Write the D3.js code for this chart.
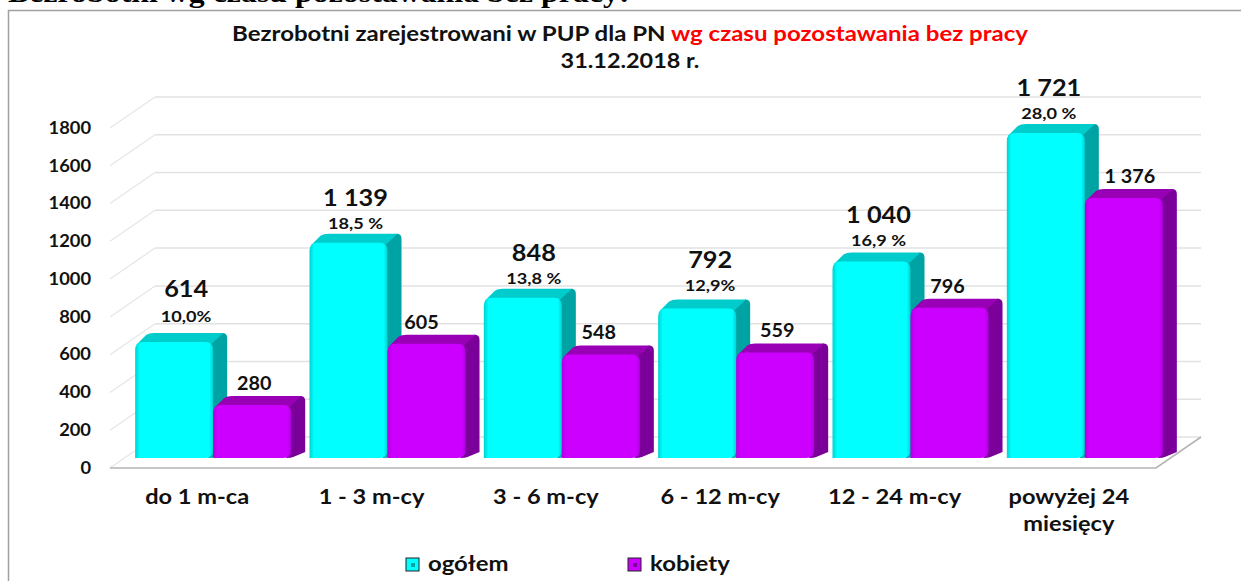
<!DOCTYPE html>
<html>
<head>
<meta charset="utf-8">
<script src="https://cdn.jsdelivr.net/npm/d3@7"></script>
<style>
  html, body { margin: 0; padding: 0; background: #fff; overflow: hidden; }
  svg { display: block; }
  text { font-family: Lato, "Open Sans", sans-serif; font-weight: 700; fill: #111; }
</style>
</head>
<body>
<svg id="chart"></svg>
<script>
const categories = ["do 1 m-ca", "1 - 3 m-cy", "3 - 6 m-cy", "6 - 12 m-cy", "12 - 24 m-cy", "powyżej 24|miesięcy"];
const seriesNames = ["ogółem", "kobiety"];
const totalValues = [614, 1139, 848, 792, 1040, 1721];
const womenValues = [280, 605, 548, 559, 796, 1376];
const shareLabels = ["10,0%", "18,5 %", "13,8 %", "12,9%", "16,9 %", "28,0 %"];
const yTicks = [0, 200, 400, 600, 800, 1000, 1200, 1400, 1600, 1800];

// the labels were nudged by hand in the original chart
const totalLabelDx = [12, 7, 11, 13, 7, 3];
const totalLabelDy = [-8, 0, 0, -3, -2, 0];
const shareLabelDy = [-6, 0, 0, -3, -2, 0];
const womenLabelDx = [2, -5, -2, 2, -2, 6];

const width = 1241;
const height = 581;

const svg = d3.select("#chart").attr("width", width).attr("height", height);

// the original picture is stretched sideways, so the text is too
function stretch(selection, k) {
  selection.each(function () {
    d3.select(this)
      .attr("textLength", this.getComputedTextLength() * k)
      .attr("lengthAdjust", "spacingAndGlyphs");
  });
}

// floor corners of the fake 3D box
const floor = { left: 110, right: 1156, front: 468, depthX: 45, depthY: -31 };
const barLift = { x: 16, y: -10 };
const barDepth = { x: 14, y: -9 };

const yFront = d3.scaleLinear().domain([0, 1800]).range([floor.front, 128]);
const yBar = d3.scaleLinear().domain([0, 1800]).range([floor.front + barLift.y, 128 + barLift.y]);

const xAxisScale = d3.scaleBand().domain(categories).range([floor.left, floor.right]);
const x0 = d3.scaleBand()
  .domain(categories)
  .range([floor.left + barLift.x, floor.right + barLift.x])
  .paddingInner(0.105)
  .paddingOuter(0.0525);
const x1 = d3.scaleBand().domain(seriesNames).range([0, x0.bandwidth()]);

const palette = {
  "ogółem": { front: "#00ffff", edge: "#00d2d2", top: "#00cccc", side: "#00a3a3" },
  "kobiety": { front: "#cc00ff", edge: "#b000e0", top: "#9900b5", side: "#7a0099" },
};

// Gradients for the bevel on the bar fronts
const defs = svg.append("defs");
seriesNames.forEach((name, i) => {
  const grad = defs.append("linearGradient").attr("id", "front" + i);
  grad.append("stop").attr("offset", "0%").attr("stop-color", palette[name].edge);
  grad.append("stop").attr("offset", "6%").attr("stop-color", palette[name].front);
  grad.append("stop").attr("offset", "95%").attr("stop-color", palette[name].front);
  grad.append("stop").attr("offset", "100%").attr("stop-color", palette[name].edge);
});

// Heading of the document, cut by the top of the page
svg.append("text")
  .attr("x", 8)
  .attr("y", 2)
  .style("font-family", '"Liberation Serif", serif')
  .style("font-size", "27px")
  .style("fill", "#000")
  .text("Bezrobotni wg czasu pozostawania bez pracy:")
  .call(stretch, 1.18);

// Frame
svg.append("path")
  .attr("d", `M8.5,${height}V10.5H${width}`)
  .attr("fill", "none")
  .attr("stroke", "#a0a0a0")
  .attr("stroke-width", 1.5);

// Title
const title = svg.append("text")
  .attr("x", 630)
  .attr("y", 41)
  .attr("text-anchor", "middle")
  .style("font-size", "21px");
title.append("tspan").text("Bezrobotni zarejestrowani w PUP dla PN ");
title.append("tspan").style("fill", "#ff0000").text("wg czasu pozostawania bez pracy");
title.call(stretch, 1.144);

svg.append("text")
  .attr("x", 630)
  .attr("y", 68)
  .attr("text-anchor", "middle")
  .style("font-size", "20px")
  .text("31.12.2018 r.")
  .call(stretch, 1.17);

// Gridlines on back wall and left wall
const grid = svg.append("g");
grid.selectAll(".wall")
  .data(yTicks)
  .enter()
  .append("line")
  .attr("class", "wall")
  .attr("x1", floor.left + floor.depthX)
  .attr("x2", floor.right + floor.depthX)
  .attr("y1", (d) => yFront(d) + floor.depthY)
  .attr("y2", (d) => yFront(d) + floor.depthY)
  .attr("stroke", "#e2e2e2")
  .attr("stroke-width", 1.5);
grid.selectAll(".side")
  .data(yTicks)
  .enter()
  .append("line")
  .attr("class", "side")
  .attr("x1", floor.left)
  .attr("x2", floor.left + floor.depthX)
  .attr("y1", (d) => yFront(d))
  .attr("y2", (d) => yFront(d) + floor.depthY)
  .attr("stroke", "#e6e6e6")
  .attr("stroke-width", 1.2);

// Floor edges
svg.append("path")
  .attr("d", `M${floor.left},${floor.front}H${floor.right}L${floor.right + floor.depthX},${floor.front + floor.depthY}`)
  .attr("fill", "none")
  .attr("stroke", "#b4b4b4")
  .attr("stroke-width", 1.6);

// Bars
const rows = categories.map((c, i) => [
  { category: c, series: seriesNames[0], value: totalValues[i], idx: 0 },
  { category: c, series: seriesNames[1], value: womenValues[i], idx: 1 },
]);

const barGroups = svg.selectAll(".cat")
  .data(rows)
  .enter()
  .append("g")
  .attr("class", "cat")
  .attr("transform", (d) => `translate(${x0(d[0].category)},0)`);

const bars = barGroups.selectAll(".bar")
  .data((d) => d)
  .enter()
  .append("g")
  .attr("class", "bar");

const bw = x1.bandwidth();
const r = 8;

// side face
bars.append("path")
  .attr("fill", (d) => palette[d.series].side)
  .attr("d", (d) => {
    const x = x1(d.series) + bw;
    const t = yBar(d.value);
    const b = yBar(0);
    return `M${x - 5},${t + 3}L${x + barDepth.x - 5},${t + barDepth.y}Q${x + barDepth.x},${t + barDepth.y} ${x + barDepth.x},${t + barDepth.y + 5}`
      + `V${b + barDepth.y + 3}L${x + 2},${b - 1}Q${x},${b} ${x - 5},${b}Z`;
  });

// top face
bars.append("path")
  .attr("fill", (d) => palette[d.series].top)
  .attr("d", (d) => {
    const x = x1(d.series);
    const t = yBar(d.value);
    return `M${x + 1},${t + 3}L${x + barDepth.x - 3},${t + barDepth.y + 2}Q${x + barDepth.x},${t + barDepth.y} ${x + barDepth.x + 5},${t + barDepth.y}`
      + `H${x + bw + barDepth.x - 4}L${x + bw - 3},${t + 3}Z`;
  });

// front face with rounded top corners
bars.append("path")
  .attr("fill", (d) => `url(#front${d.idx})`)
  .attr("d", (d) => {
    const x = x1(d.series);
    const t = yBar(d.value);
    const b = yBar(0);
    const p = d3.path();
    p.moveTo(x, b);
    p.lineTo(x, t + r);
    p.quadraticCurveTo(x, t, x + r, t);
    p.lineTo(x + bw - r, t);
    p.quadraticCurveTo(x + bw, t, x + bw, t + r);
    p.lineTo(x + bw, b - r);
    p.quadraticCurveTo(x + bw, b, x + bw - r, b);
    p.closePath();
    return p.toString();
  });

// Value labels
const labelFmt = d3.formatLocale({ decimal: ",", thousands: " ", grouping: [3], currency: ["", ""] }).format(",");

barGroups.append("text")
  .attr("x", (d, i) => x1(seriesNames[0]) + bw / 2 + totalLabelDx[i])
  .attr("y", (d, i) => yBar(totalValues[i]) + barDepth.y - 28 + totalLabelDy[i])
  .attr("text-anchor", "middle")
  .style("font-size", "23px")
  .text((d, i) => labelFmt(totalValues[i]))
  .call(stretch, 1.1);

barGroups.append("text")
  .attr("x", (d, i) => x1(seriesNames[0]) + bw / 2 + totalLabelDx[i])
  .attr("y", (d, i) => yBar(totalValues[i]) + barDepth.y - 5 + shareLabelDy[i])
  .attr("text-anchor", "middle")
  .style("font-size", "15.5px")
  .text((d, i) => shareLabels[i])
  .call(stretch, 1.17);

barGroups.append("text")
  .attr("x", (d, i) => x1(seriesNames[1]) + bw / 2 + womenLabelDx[i])
  .attr("y", (d, i) => yBar(womenValues[i]) + barDepth.y - 6)
  .attr("text-anchor", "middle")
  .style("font-size", "18px")
  .text((d, i) => labelFmt(womenValues[i]))
  .call(stretch, 1.1);

// Axes
const yAxis = svg.append("g")
  .attr("transform", "translate(91,0)")
  .call(d3.axisLeft(yFront).tickValues(yTicks).tickSize(0).tickPadding(0).tickFormat(d3.format("d")));
yAxis.select(".domain").remove();
yAxis.selectAll("text")
  .style("font-family", null)
  .style("font-size", "16.5px")
  .attr("fill", null)
  .call(stretch, 1.11);

const xAxis = svg.append("g")
  .attr("transform", `translate(0,${floor.front})`)
  .call(d3.axisBottom(xAxisScale).tickSize(0).tickPadding(0));
xAxis.select(".domain").remove();
xAxis.selectAll("text").each(function (d) {
  const t = d3.select(this);
  t.text(null).attr("y", 36).attr("dy", null).style("font-size", "20px").attr("fill", null);
  d.split("|").forEach((line, i) => {
    t.append("tspan").attr("x", 0).attr("dy", i ? 27 : 0).text(line).call(stretch, 1.18);
  });
});

// Legend
const legendX = d3.scaleOrdinal().domain(seriesNames).range([406, 628]);
const legend = svg.selectAll(".legend-item")
  .data(seriesNames)
  .enter()
  .append("g")
  .attr("class", "legend-item")
  .attr("transform", (d) => `translate(${legendX(d)},558)`);
legend.append("rect")
  .attr("width", 13)
  .attr("height", 13)
  .attr("fill", (d) => palette[d].front)
  .attr("stroke", "#222")
  .attr("stroke-width", 1);
legend.append("rect")
  .attr("x", 5)
  .attr("y", 5)
  .attr("width", 4)
  .attr("height", 4)
  .attr("fill", (d) => palette[d].side);
legend.append("text")
  .attr("x", 22)
  .attr("y", 13)
  .style("font-size", "21px")
  .text((d) => d)
  .call(stretch, 1.14);
</script>
</body>
</html>
